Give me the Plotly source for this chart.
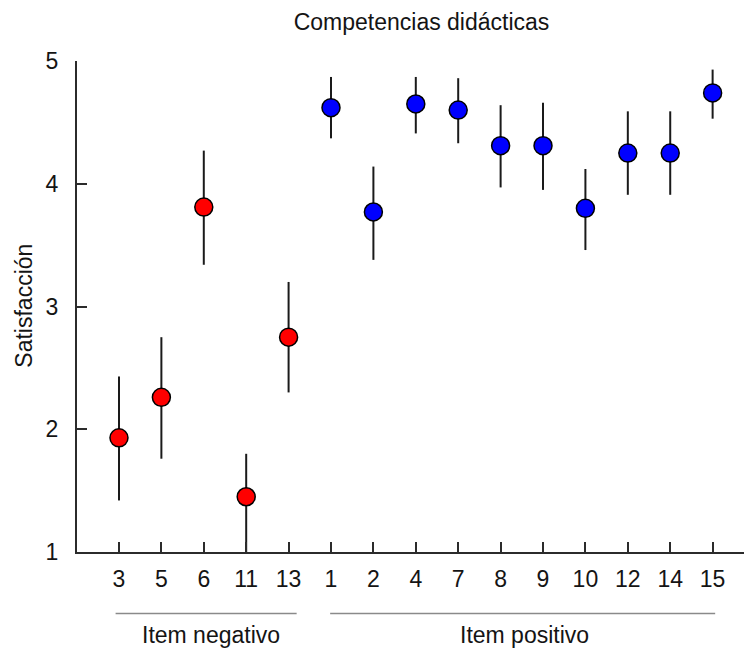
import plotly.graph_objects as go

# Data
neg_items = ["3", "5", "6", "11", "13"]
neg_vals = [1.93, 2.26, 3.81, 1.45, 2.75]
neg_err_plus = [0.50, 0.49, 0.46, 0.35, 0.45]
neg_err_minus = [0.51, 0.50, 0.47, 0.45, 0.45]

pos_items = ["1", "2", "4", "7", "8", "9", "10", "12", "14", "15"]
pos_vals = [4.62, 3.77, 4.65, 4.60, 4.31, 4.31, 3.80, 4.25, 4.25, 4.74]
pos_err_plus = [0.25, 0.37, 0.22, 0.26, 0.33, 0.35, 0.32, 0.34, 0.34, 0.19]
pos_err_minus = [0.25, 0.39, 0.24, 0.27, 0.34, 0.36, 0.34, 0.34, 0.34, 0.21]

y_ticks = [1, 2, 3, 4, 5]
title_text = "Competencias didácticas"
y_label = "Satisfacción"
group_labels = ["Item negativo", "Item positivo"]

FONT = "Liberation Sans, Arial, sans-serif"
AX = "#2b2b2b"
FS = 23
TC = "#141414"

fig = go.Figure()
fig.add_trace(go.Scatter(
    x=neg_items, y=neg_vals, mode="markers",
    marker=dict(color="#ff0000", size=18, line=dict(color="black", width=1.5)),
    error_y=dict(type="data", symmetric=False, array=neg_err_plus,
                 arrayminus=neg_err_minus, width=0, thickness=2, color="#1a1a1a"),
    showlegend=False,
))
fig.add_trace(go.Scatter(
    x=pos_items, y=pos_vals, mode="markers",
    marker=dict(color="#0000ff", size=18, line=dict(color="black", width=1.5)),
    error_y=dict(type="data", symmetric=False, array=pos_err_plus,
                 arrayminus=pos_err_minus, width=0, thickness=2, color="#1a1a1a"),
    showlegend=False,
))

all_items = neg_items + pos_items
n_neg = len(neg_items)
n_all = len(all_items)

fig.update_xaxes(
    type="category", categoryorder="array", categoryarray=all_items,
    range=[-0.99, 14.74], showline=True, linecolor=AX, linewidth=2,
    ticks="inside", ticklen=10, tickwidth=2, tickcolor=AX,
    showgrid=False, zeroline=False, automargin=False,
    tickfont=dict(family=FONT, size=FS, color=TC),
    ticklabelstandoff=5,
)
fig.update_yaxes(
    range=[1, 5], tickvals=y_ticks, showline=True, linecolor=AX, linewidth=2,
    ticks="inside", ticklen=10, tickwidth=2, tickcolor=AX,
    showgrid=False, zeroline=False, automargin=False,
    tickfont=dict(family=FONT, size=FS, color=TC),
    ticklabelstandoff=12,
)

# group underline shapes
fig.add_shape(type="line", xref="x", yref="paper",
              x0=-0.08, x1=n_neg - 1 + 0.19, y0=-0.125, y1=-0.125,
              line=dict(color="#8a8a8a", width=1.5))
fig.add_shape(type="line", xref="x", yref="paper",
              x0=n_neg - 0.02, x1=n_all - 1 + 0.06, y0=-0.125, y1=-0.125,
              line=dict(color="#8a8a8a", width=1.5))

fig.add_annotation(text=group_labels[0], xref="x", yref="paper",
                   x=2.18, y=-0.17, showarrow=False, yanchor="middle",
                   borderpad=0, font=dict(family=FONT, size=FS, color=TC))
fig.add_annotation(text=group_labels[1], xref="x", yref="paper",
                   x=9.56, y=-0.17, showarrow=False, yanchor="middle",
                   borderpad=0, font=dict(family=FONT, size=FS, color=TC))
fig.add_annotation(text=y_label, xref="paper", yref="paper",
                   x=-0.08, y=0.501, showarrow=False, textangle=-90,
                   xanchor="center", yanchor="middle",
                   font=dict(family=FONT, size=FS, color=TC))

fig.update_layout(
    width=744, height=651,
    margin=dict(l=77, r=0, t=61, b=99),
    paper_bgcolor="white", plot_bgcolor="white",
    title=dict(text=title_text, x=0.5165, xref="paper", y=1 - 22 / 651,
               yref="container", xanchor="center", yanchor="middle",
               font=dict(family=FONT, size=FS, color=TC)),
)

fig.write_html("out.html")
